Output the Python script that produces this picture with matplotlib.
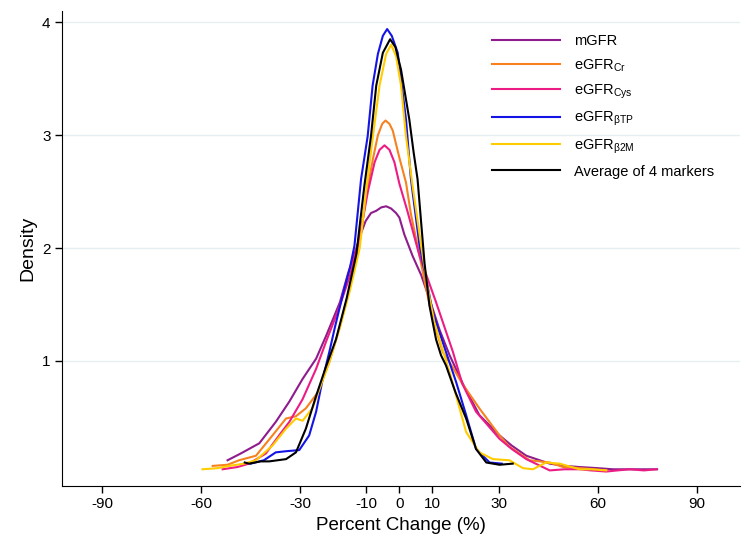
import matplotlib.pyplot as plt

plt.rcParams['font.family'] = ['Liberation Sans', 'DejaVu Sans']

# density curves (percent change, density)
mgfr_x = [-52, -48, -42.4, -37.4, -33.3, -29.3, -25.2, -22.2, -18, -15.5, -13, -11.5, -10.2, -8.6, -7, -5.5, -4, -2.5, -1, 0, 1.5, 4, 6.6, 9.1, 12.1, 15.2, 19.5, 24.2, 30.3, 34, 38.4, 45.5, 50, 54.5, 60, 64.6, 70, 78]
mgfr_y = [0.12, 0.18, 0.27, 0.46, 0.64, 0.84, 1.02, 1.22, 1.52, 1.78, 2.0, 2.14, 2.24, 2.31, 2.33, 2.36, 2.37, 2.35, 2.31, 2.27, 2.12, 1.93, 1.76, 1.55, 1.28, 1.05, 0.78, 0.52, 0.34, 0.25, 0.16, 0.09, 0.07, 0.06, 0.05, 0.04, 0.04, 0.04]

cr_x = [-56.5, -52, -48.5, -43.4, -38.4, -34.3, -31.3, -28.3, -24.7, -21.2, -18, -15, -12, -9.9, -8, -6.5, -5.2, -4.2, -3, -2, 0, 2, 3.5, 5.5, 8.1, 10.1, 13.1, 16, 19, 24.2, 30.3, 33.3, 39.4, 45.5, 49.5, 55, 62.6]
cr_y = [0.07, 0.08, 0.12, 0.16, 0.34, 0.49, 0.51, 0.58, 0.72, 0.99, 1.3, 1.65, 2.05, 2.49, 2.79, 3.0, 3.1, 3.13, 3.1, 3.04, 2.8, 2.58, 2.3, 2.02, 1.64, 1.37, 1.08, 0.95, 0.8, 0.58, 0.34, 0.24, 0.12, 0.1, 0.06, 0.05, 0.03]

cys_x = [-53.5, -49, -45.5, -40.4, -36.4, -33.3, -29.3, -25.2, -22.2, -18.5, -15, -12, -9.6, -7.5, -6, -4.5, -3, -1.5, 0, 2.5, 6.1, 11.1, 16.2, 19, 23.2, 30.3, 34, 38.4, 45.5, 50, 54.5, 58, 62.6, 66, 69.7, 74, 77.8]
cys_y = [0.04, 0.06, 0.09, 0.18, 0.34, 0.46, 0.66, 0.93, 1.17, 1.45, 1.75, 2.1, 2.49, 2.76, 2.87, 2.91, 2.87, 2.76, 2.57, 2.32, 1.93, 1.52, 1.08, 0.8, 0.55, 0.31, 0.22, 0.13, 0.03, 0.04, 0.04, 0.03, 0.02, 0.03, 0.04, 0.03, 0.04]

btp_x = [-45, -41, -37.4, -34.3, -30.3, -27.3, -25.2, -23.2, -21.2, -19.5, -17, -15, -13.6, -11.6, -9.6, -8.1, -6.5, -5, -3.7, -2.3, -0.5, 2, 3.5, 6.1, 8.1, 10.1, 14.1, 17.2, 20.2, 23.2, 27.3, 31]
btp_y = [0.09, 0.12, 0.19, 0.2, 0.21, 0.34, 0.55, 0.84, 1.08, 1.3, 1.6, 1.82, 2.02, 2.61, 2.99, 3.44, 3.72, 3.88, 3.94, 3.88, 3.73, 3.14, 2.61, 2.02, 1.73, 1.43, 1.08, 0.81, 0.52, 0.22, 0.1, 0.09]

b2m_x = [-59.6, -55, -51.5, -47, -43.4, -38.4, -34.3, -31.3, -29.3, -26.3, -24.2, -21.2, -18, -15, -12, -9.9, -8, -6, -4, -2.5, -1, 0.5, 2, 4, 6.6, 8.6, 10.6, 13.6, 15.2, 20.2, 24.2, 28.3, 33.3, 37.4, 40.4, 44.4, 48.5, 54.5, 58, 62.6]
b2m_y = [0.04, 0.05, 0.07, 0.09, 0.12, 0.25, 0.4, 0.49, 0.47, 0.58, 0.75, 0.99, 1.3, 1.62, 2.0, 2.55, 2.99, 3.44, 3.72, 3.8, 3.7, 3.44, 2.99, 2.55, 2.02, 1.64, 1.34, 1.05, 0.9, 0.37, 0.19, 0.13, 0.12, 0.05, 0.04, 0.1, 0.09, 0.04, 0.04, 0.03]

avg_x = [-46.8, -45.5, -42, -39.4, -34.3, -31.3, -28.3, -25.2, -22.2, -19.2, -16, -13, -10.6, -8.6, -7, -5, -2.8, -1.2, 0.5, 3, 4.3, 5.5, 7.6, 9.1, 11.1, 12.6, 14.1, 17, 20.2, 23.2, 26.3, 30.3, 34.3]
avg_y = [0.1, 0.09, 0.11, 0.11, 0.13, 0.19, 0.4, 0.69, 0.95, 1.19, 1.55, 1.95, 2.55, 2.99, 3.44, 3.73, 3.85, 3.78, 3.58, 3.14, 2.85, 2.61, 1.87, 1.49, 1.19, 1.05, 0.96, 0.72, 0.49, 0.22, 0.1, 0.08, 0.09]

labels = ['mGFR', r'eGFR$_{\mathregular{Cr}}$', r'eGFR$_{\mathregular{Cys}}$',
          r'eGFR$_{\mathregular{\beta TP}}$', r'eGFR$_{\mathregular{\beta 2M}}$',
          'Average of 4 markers']
colors = ['#8E1C8C', '#F5821F', '#EC1C84', '#1414E6', '#FFCC00', '#000000']
series = [(mgfr_x, mgfr_y), (cr_x, cr_y), (cys_x, cys_y),
          (btp_x, btp_y), (b2m_x, b2m_y), (avg_x, avg_y)]

xticks = [-90, -60, -30, -10, 0, 10, 30, 60, 90]
yticks = [1, 2, 3, 4]

fig = plt.figure(figsize=(7.51, 5.5), dpi=100)
ax = fig.add_axes([0.083, 0.117, 0.902, 0.863])

for (x, y), c, lab in zip(series, colors, labels):
    ax.plot(x, y, color=c, lw=1.5, label=lab, solid_joinstyle='round')

ax.set_xlim(-102, 103)
ax.set_ylim(-0.105, 4.1)
ax.set_xticks(xticks)
ax.set_yticks(yticks)
ax.set_yticklabels([str(t) for t in yticks], fontsize=11)
ax.set_xticklabels([str(t) for t in xticks], fontsize=11)
ax.yaxis.grid(True, color='#E6F0F4', lw=1)
ax.set_axisbelow(True)
for s in ['top', 'right']:
    ax.spines[s].set_visible(False)
ax.tick_params(direction='out', length=5, width=1)
ax.set_xlabel('Percent Change (%)', fontsize=13.5)
ax.set_ylabel('Density', fontsize=14)

ax.legend(loc='upper left', bbox_to_anchor=(0.634, 0.951), frameon=False,
          fontsize=10.5, handlelength=4.7, labelspacing=0.6,
          handletextpad=0.95, borderpad=0, borderaxespad=0)

fig.savefig('out.png', dpi=100)
